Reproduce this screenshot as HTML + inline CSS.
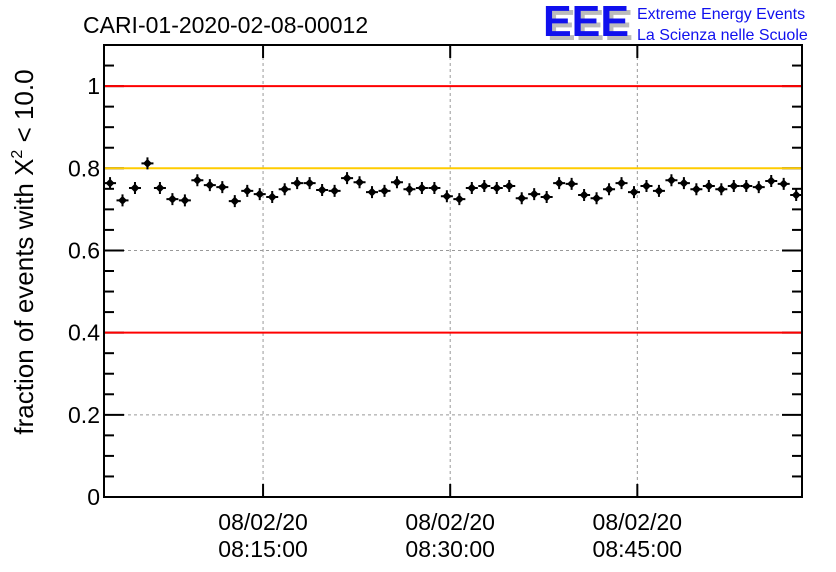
<!DOCTYPE html>
<html><head><meta charset="utf-8"><style>
body{margin:0;background:#fff}
svg{display:block;font-family:"Liberation Sans",sans-serif}
</style></head><body>
<svg id="chart" width="836" height="572" viewBox="0 0 836 572">
<text x="83" y="33" font-size="23">CARI-01-2020-02-08-00012</text>
<g>
<text x="547" y="40" font-size="44" font-weight="bold" fill="#bbb" textLength="86" lengthAdjust="spacingAndGlyphs">EEE</text>
<text x="543" y="36" font-size="44" font-weight="bold" fill="#1010ee" textLength="86" lengthAdjust="spacingAndGlyphs">EEE</text>
<text x="637" y="19" font-size="16" fill="#1010ee">Extreme Energy Events</text>
<text x="637" y="40" font-size="16" fill="#1010ee">La Scienza nelle Scuole</text>
</g>
<text transform="translate(33,252) rotate(-90)" text-anchor="middle" font-size="26">fraction of events with X<tspan dy="-11" font-size="16">2</tspan><tspan dy="11"> &lt; 10.0</tspan></text>
<g id="grid"></g><g id="axes"></g><g id="lines"></g><g id="marks"></g>
</svg>
<script>
const yTicks=[0,0.2,0.4,0.6,0.8,1];
const yTickLabels=["0","0.2","0.4","0.6","0.8","1"];
const xTickTimes=["08:15:00","08:30:00","08:45:00"];
const xTickDates=["08/02/20","08/02/20","08/02/20"];
const refLinesRed=[0.4,1.0];
const refLinesYellow=[0.8];
const firstPointTime="08:02:44";
const values=[0.764,0.722,0.752,0.812,0.752,0.725,0.722,0.771,0.759,0.754,0.72,0.745,0.737,0.73,0.749,0.764,0.764,0.747,0.745,0.776,0.766,0.742,0.745,0.766,0.749,0.752,0.752,0.732,0.725,0.752,0.757,0.752,0.757,0.727,0.737,0.73,0.764,0.762,0.735,0.727,0.749,0.764,0.742,0.757,0.745,0.771,0.764,0.749,0.757,0.749,0.757,0.757,0.754,0.769,0.762,0.735];
const NS="http://www.w3.org/2000/svg";
const L=104,R=802,T=45,B=497;
function sec(s){const p=s.split(":").map(Number);return p[0]*3600+p[1]*60+p[2];}
const x0=sec("08:02:15"),x1=sec("08:58:12");
const X=t=>L+(t-x0)/(x1-x0)*(R-L);
const Y=v=>B-(v/1.1)*(B-T);
function mk(tag,attrs,parent){const e=document.createElementNS(NS,tag);for(const k in attrs)e.setAttribute(k,attrs[k]);document.getElementById(parent).appendChild(e);return e;}
yTicks.forEach((v,i)=>{if(v>0&&v<1){const g=mk("line",{x1:L,x2:R,y1:Y(v),y2:Y(v),stroke:"#999","stroke-dasharray":"3,3","stroke-width":1},"grid");

}});
xTickTimes.forEach(t=>{const x=X(sec(t));const g=mk("line",{x1:x,x2:x,y1:T,y2:B,stroke:"#999","stroke-dasharray":"3,3","stroke-width":1},"grid");

});
refLinesRed.forEach(v=>{const l=mk("line",{x1:L+1,x2:R-1,y1:Y(v),y2:Y(v),stroke:"#f00","stroke-width":2},"lines");

});
refLinesYellow.forEach(v=>{const l=mk("line",{x1:L+1,x2:R-1,y1:Y(v),y2:Y(v),stroke:"#ffcc00","stroke-width":2},"lines");

});
const t0=sec(firstPointTime);
values.forEach((v,i)=>{const cx=X(t0+i*60),cy=Y(v);
const g=mk("g",{},"marks");


const h=document.createElementNS(NS,"path");
h.setAttribute("d",`M${cx-6},${cy}H${cx+6}M${cx},${cy-6}V${cy+6}`);
h.setAttribute("stroke","#000");h.setAttribute("stroke-width","2");g.appendChild(h);
const d=document.createElementNS(NS,"path");
d.setAttribute("d",`M${cx},${cy-4.5}L${cx+4.5},${cy}L${cx},${cy+4.5}L${cx-4.5},${cy}Z`);
d.setAttribute("fill","#000");g.appendChild(d);});
const fr=mk("rect",{x:L,y:T,width:R-L,height:B-T,fill:"none",stroke:"#000","stroke-width":2},"axes");


for(let k=0;k<=22;k++){const v=k*0.05;const major=(k%4===0);const len=major?20:10;const y=Y(v);
mk("line",{x1:L,x2:L+len,y1:y,y2:y,stroke:"#000","stroke-width":2},"axes");
mk("line",{x1:R-len,x2:R,y1:y,y2:y,stroke:"#000","stroke-width":2},"axes");}
yTicks.forEach((v,i)=>{const t=mk("text",{x:L-4,y:Y(v)+8,"text-anchor":"end","font-size":23},"axes");t.textContent=yTickLabels[i];

});
xTickTimes.forEach((tm,i)=>{const x=X(sec(tm));
mk("line",{x1:x,x2:x,y1:B-13,y2:B,stroke:"#000","stroke-width":2},"axes");
mk("line",{x1:x,x2:x,y1:T,y2:T+13,stroke:"#000","stroke-width":2},"axes");
const a=mk("text",{x:x,y:530,"text-anchor":"middle","font-size":23},"axes");a.textContent=xTickDates[i];


const b=mk("text",{x:x,y:557,"text-anchor":"middle","font-size":23},"axes");b.textContent=tm;

});
</script>
</body></html>
